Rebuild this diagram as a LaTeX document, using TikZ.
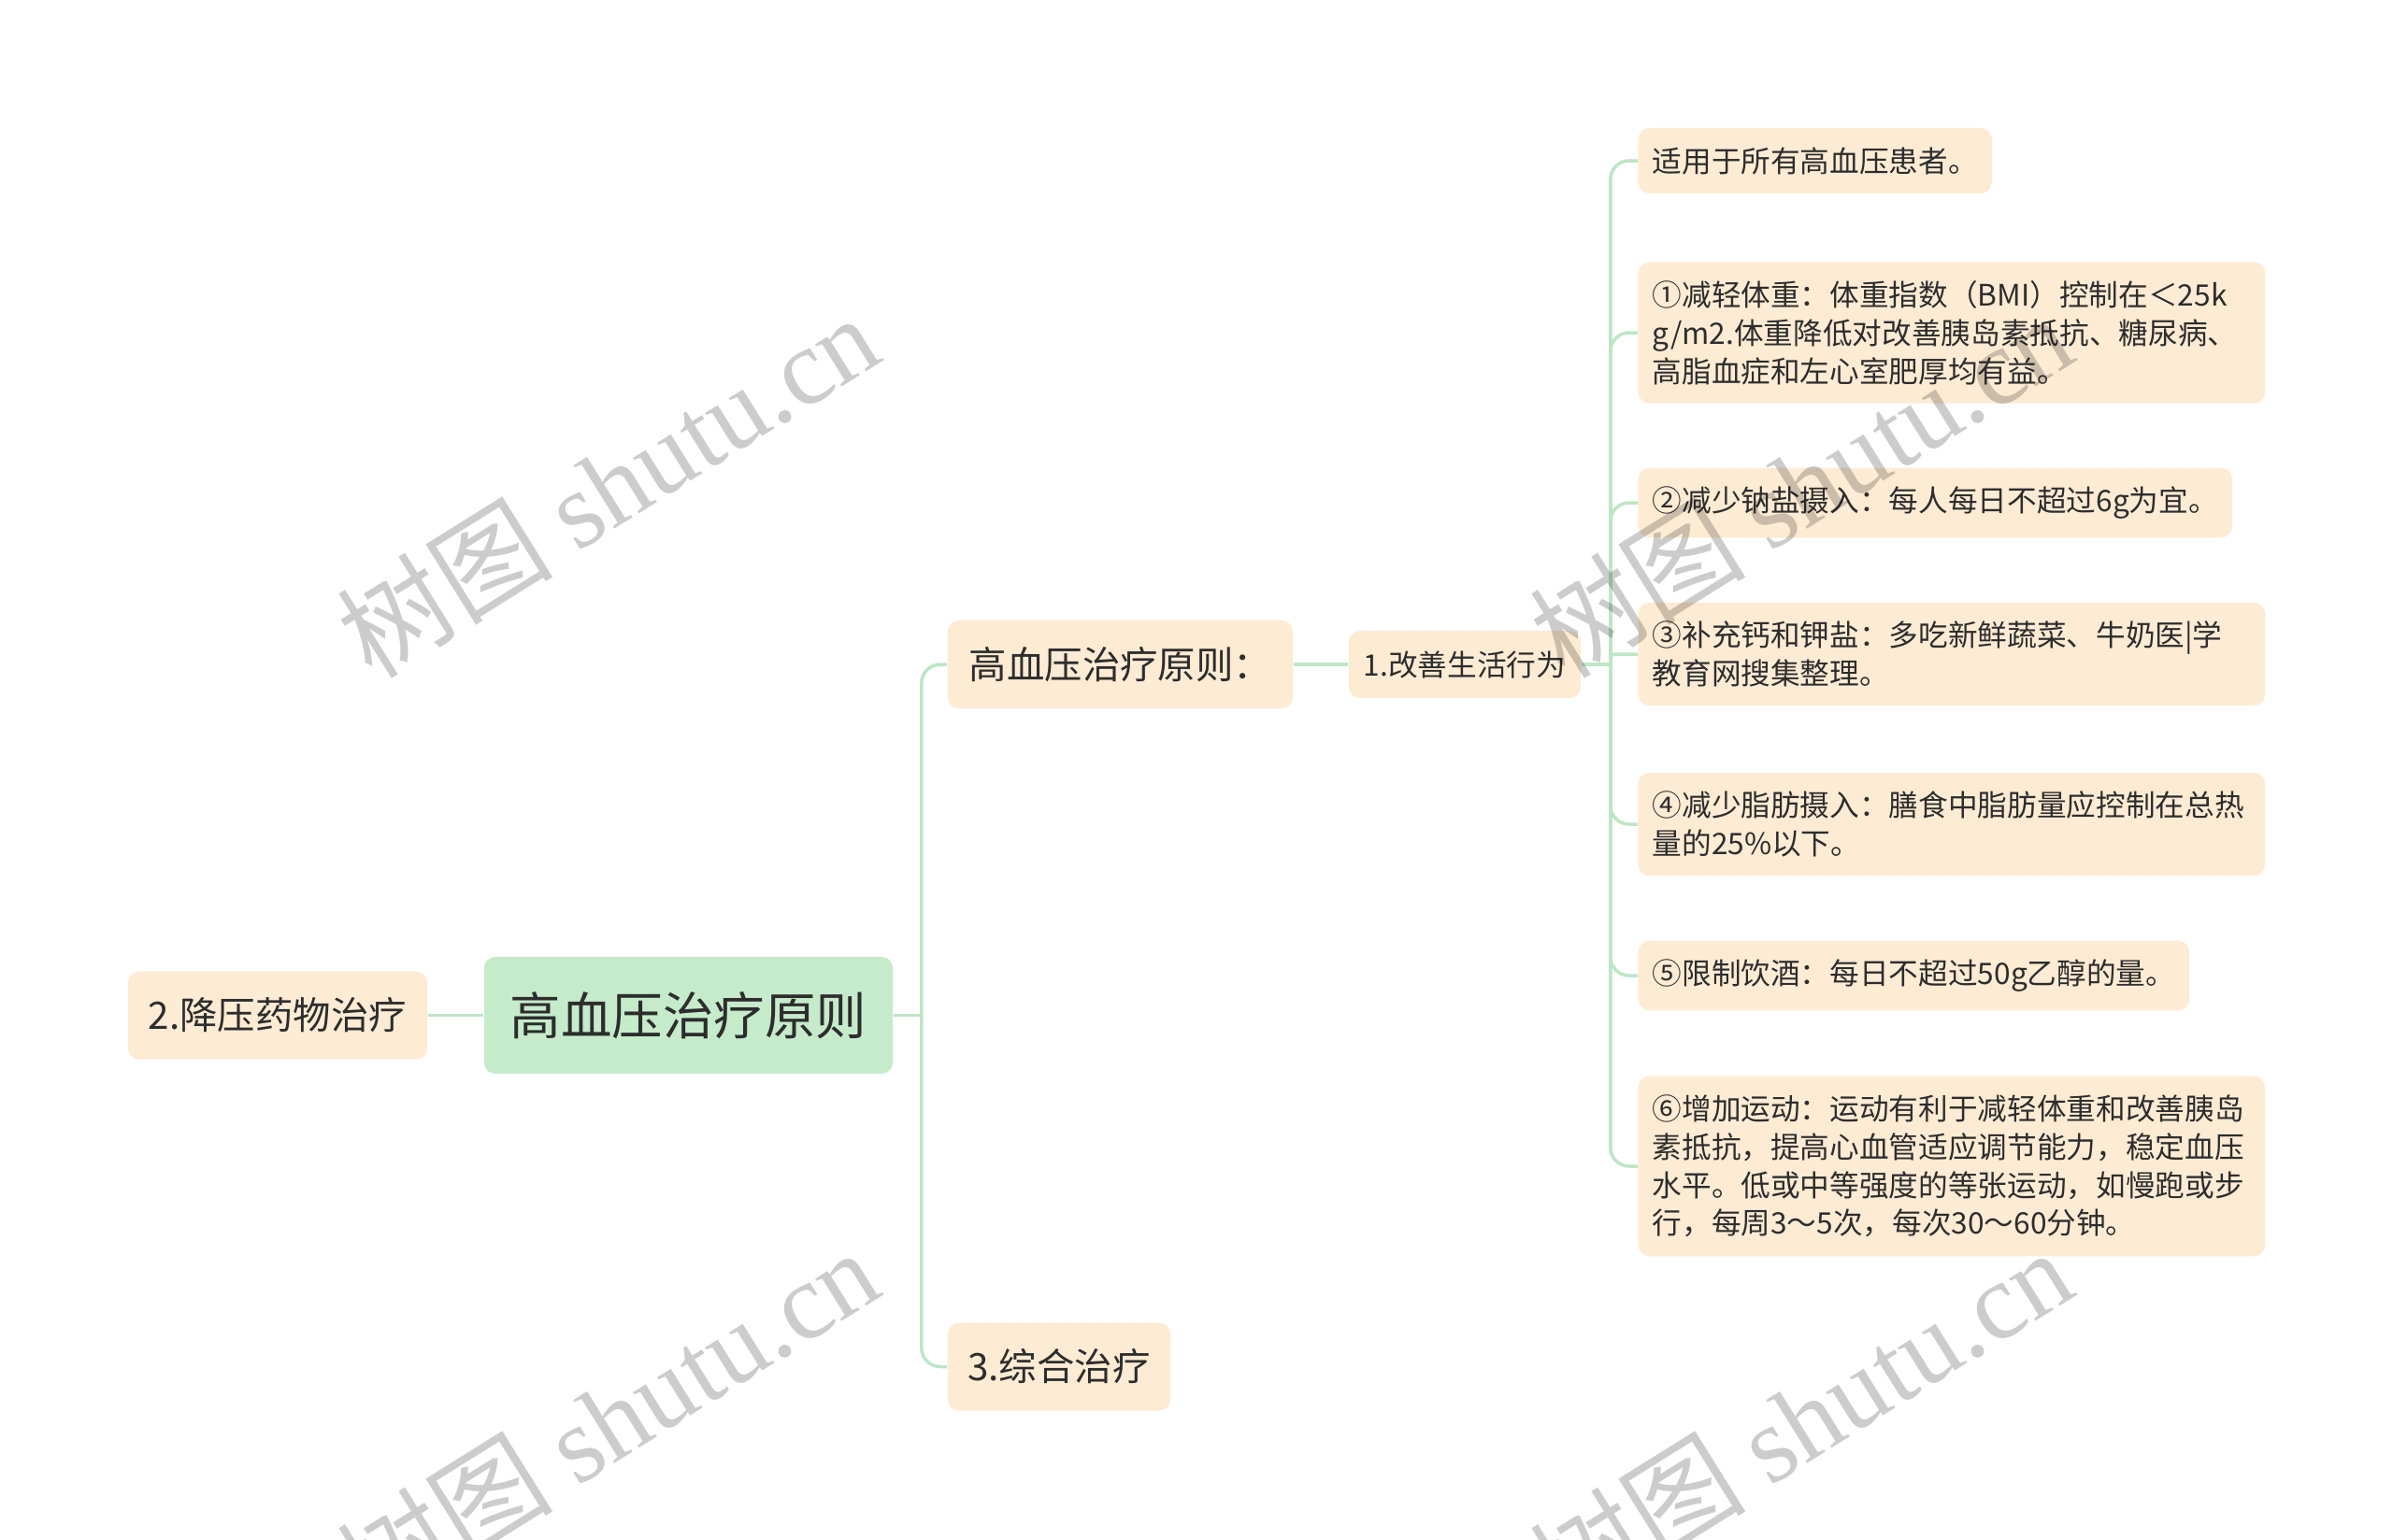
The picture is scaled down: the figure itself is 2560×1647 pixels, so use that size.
\documentclass[tikz,border=0pt]{standalone}
\usepackage{fontspec}
\setmainfont{Noto Sans CJK SC}
\newfontfamily\wmlatin{Liberation Serif}
\newfontfamily\cjkfont{Noto Sans CJK SC}
\usetikzlibrary{calc}
\definecolor{leaffill}{RGB}{253,235,212}
\definecolor{rootfill}{RGB}{197,235,203}
\definecolor{linecol}{RGB}{190,230,197}
\definecolor{txt}{RGB}{45,45,45}
\begin{document}
\begin{tikzpicture}[x=0.01cm,y=-0.01cm,
  box/.style={rounded corners=0.12cm, text=txt, inner sep=0pt},
  rootbox/.style={box, fill=rootfill, minimum width=4.37cm, minimum height=1.25cm, font=\fontsize{15.5}{18}\selectfont},
  midbox/.style={box, fill=leaffill, minimum height=0.94cm, font=\fontsize{11.5}{14}\selectfont},
  smallbox/.style={box, fill=leaffill, minimum height=0.72cm, font=\fontsize{9}{11.6}\selectfont},
  leafbox/.style={box, fill=leaffill, anchor=west, font=\fontsize{9}{11.6}\selectfont, inner xsep=0.15cm, inner ysep=0.2cm, align=left},
  wideleaf/.style={leafbox, text width=6.4cm},
  conn/.style={draw=linecol, line width=1pt},
  wm/.style={rotate=32, text=black, opacity=0.2, font=\fontsize{33}{33}\selectfont}
]
\fill[white] (0,0) rectangle (2560,1647);
\useasboundingbox (0,0) rectangle (2560,1647);

% main nodes
\node[rootbox] (root) at (736.5,1086.5) {高血压治疗原则};
\node[midbox, minimum width=3.69cm] (a) at (1198.5,711) {高血压治疗原则：};
\node[midbox, minimum width=3.2cm] (b) at (297,1086.5) {2.降压药物治疗};
\node[midbox, minimum width=2.38cm] (c) at (1133,1462.5) {3.综合治疗};
\node[smallbox, minimum width=2.48cm] (d) at (1567,711) {1.改善生活行为};

% leaves
\node[leafbox, minimum height=0.7cm] (L0) at (1752,172) {适用于所有高血压患者。};
\node[wideleaf] (L1) at (1752,356) {①减轻体重：体重指数（BMI）控制在＜25k\\g/m2.体重降低对改善胰岛素抵抗、糖尿病、\\高脂血症和左心室肥厚均有益。};
\node[leafbox, minimum height=0.7cm] (L2) at (1752,538) {②减少钠盐摄入：每人每日不超过6g为宜。};
\node[wideleaf] (L3) at (1752,700) {③补充钙和钾盐：多吃新鲜蔬菜、牛奶医|学\\教育网搜集整理。};
\node[wideleaf] (L4) at (1752,882) {④减少脂肪摄入：膳食中脂肪量应控制在总热\\量的25\%以下。};
\node[leafbox, minimum height=0.7cm] (L5) at (1752,1044) {⑤限制饮酒：每日不超过50g乙醇的量。};
\node[wideleaf] (L6) at (1752,1248) {⑥增加运动：运动有利于减轻体重和改善胰岛\\素抵抗，提高心血管适应调节能力，稳定血压\\水平。低或中等强度的等张运动，如慢跑或步\\行，每周3～5次，每次30～60分钟。};

% connectors
\coordinate (j1) at ($(root.east)+(30,0)$);
\draw[conn] (root.east) -- (j1);
\draw[conn, rounded corners=0.2cm] (j1) |- (a.west);
\draw[conn, rounded corners=0.2cm] (j1) |- (c.west);
\draw[conn] (root.west) -- (b.east);
\draw[conn] (a.east) -- (d.west);
\coordinate (j2) at ($(d.east)+(31,0)$);
\draw[conn] (d.east) -- (j2);
\foreach \n in {L0,L1,L2,L4,L5,L6}
  \draw[conn, rounded corners=0.2cm] (j2) |- (\n.west);
\draw[conn, rounded corners=0.04cm] (j2) |- (L3.west);

% watermarks
\foreach \x/\y/\n in {650/519/w1, 1926/519/w2, 650/1519/w3, 1926/1519/w4}
  \node[wm] (\n) at (\x,\y) {{\cjkfont 树图} {\wmlatin shutu.cn}};
\end{tikzpicture}
\end{document}
